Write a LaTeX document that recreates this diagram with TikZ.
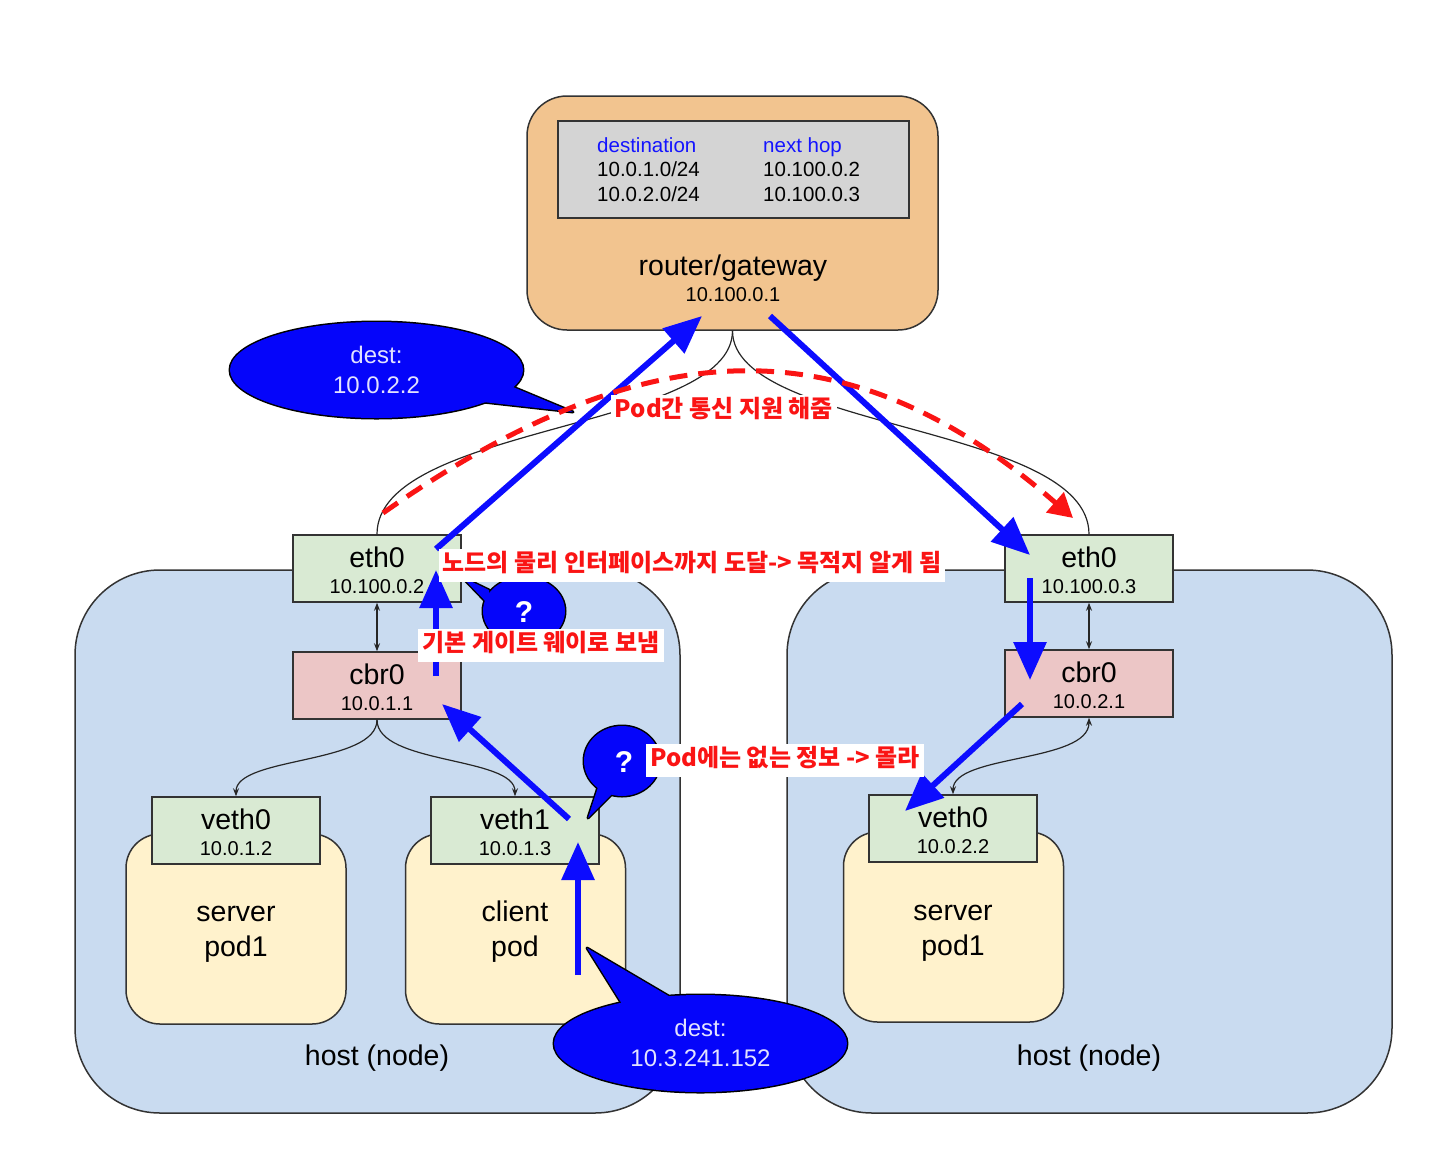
\documentclass[tikz,border=0pt]{standalone}
\usepackage{fontspec}
\setmainfont{Liberation Sans}
\newfontfamily\krfont{Noto Sans CJK KR}
\usetikzlibrary{arrows.meta}

\definecolor{routerfill}{RGB}{242,196,143}
\definecolor{hostfill}{RGB}{201,219,240}
\definecolor{ifgreen}{RGB}{217,234,211}
\definecolor{brpink}{RGB}{236,198,198}
\definecolor{podfill}{RGB}{255,242,204}
\definecolor{tablegray}{RGB}{212,212,212}
\definecolor{edgegray}{RGB}{51,51,51}
\definecolor{flowblue}{RGB}{12,12,255}
\definecolor{calloutblue}{RGB}{5,5,250}
\definecolor{callouttext}{RGB}{226,226,255}
\definecolor{headblue}{RGB}{20,20,255}
\definecolor{notered}{RGB}{250,20,20}

\newcommand\fsz[1]{\fontsize{#1}{#1}\selectfont}

% interface box: name, x, y (centre), fill, title, address
\newcommand\ifacebox[6]{%
  \node[ifbox,fill=#4] (#1) at (#2,#3) {};
  \node[title] (#1-name) at ({#2},{#3-1}) {#5};
  \node[addr] (#1-addr) at ({#2},{#3+24.5}) {#6};
}

% speech bubble: body path, tail path (outline drawn wide, then filled over)
\newcommand\speech[2]{%
  \draw[line width=3pt,line join=round,black] #1 #2;
  \fill[calloutblue] #1;
  \fill[calloutblue] #2;
}

\begin{document}
\begin{tikzpicture}[x=1pt,y=-1pt,
  outline/.style={draw=edgegray,line width=1.5pt},
  hostbox/.style={outline,fill=hostfill,rounded corners=85pt,minimum width=605pt,minimum height=543pt},
  podbox/.style={outline,fill=podfill,rounded corners=34pt,minimum width=220pt,minimum height=190pt},
  ifbox/.style={outline,minimum width=168pt,minimum height=67pt,inner sep=0pt},
  title/.style={font=\fsz{28.5},anchor=base,inner sep=0pt},
  addr/.style={font=\fsz{20},anchor=base,inner sep=0pt},
  tabtext/.style={font=\fsz{20.5},anchor=base west,inner sep=0pt},
  link/.style={black!85,line width=1.2pt},
  smalltip/.style={-{Stealth[length=8pt,width=6pt]}},
  bothtips/.style={{Stealth[length=8pt,width=6pt]}-{Stealth[length=8pt,width=6pt]}},
  flow/.style={flowblue,line width=6pt,-{Triangle[length=38pt,width=32pt]}},
  note/.style={fill=white,text=notered,font=\krfont\bfseries\fsz{24},inner xsep=4pt,inner ysep=5pt,text height=18pt,text depth=5pt},
  bubbletext/.style={text=callouttext,font=\fsz{24},anchor=base,inner sep=0pt},
  qmark/.style={text=white,font=\bfseries\fsz{30},inner sep=0pt}
]
\useasboundingbox (0,0) rectangle (1440,1152);

% hosts
\node[hostbox] (hostL) at (377.5,841.5) {};
\node[hostbox] (hostR) at (1089.5,841.5) {};
\node[title] (hostL-name) at (377,1065) {host (node)};
\node[title] (hostR-name) at (1089,1065) {host (node)};

% router with its routing table
\node[outline,fill=routerfill,rounded corners=40pt,minimum width=411pt,minimum height=234pt] (router) at (732.5,213) {};
\node[outline,fill=tablegray,minimum width=351pt,minimum height=97pt] (rtable) at (733.5,169.5) {};
\node[tabtext,text=headblue] (th-dest) at (597,152) {destination};
\node[tabtext,text=headblue] (th-hop) at (763,152) {next hop};
\node[tabtext] (r1-dest) at (597,176.5) {10.0.1.0/24};
\node[tabtext] (r2-dest) at (597,201) {10.0.2.0/24};
\node[tabtext] (r1-hop) at (763,176.5) {10.100.0.2};
\node[tabtext] (r2-hop) at (763,201) {10.100.0.3};
\node[title] (router-name) at (733,275) {router/gateway};
\node[addr] (router-addr) at (733,301) {10.100.0.1};

% pods
\node[podbox] (podL) at (236,929) {};
\node[podbox] (podC) at (515.5,929) {};
\node[podbox] (podR) at (953.5,927) {};
\node[title] (podL-a) at (236,921) {server};
\node[title] (podL-b) at (236,956) {pod1};
\node[title] (podC-a) at (515,921) {client};
\node[title] (podC-b) at (515,956) {pod};
\node[title] (podR-a) at (953,920) {server};
\node[title] (podR-b) at (953,955) {pod1};

% interfaces and bridges
\ifacebox{eth0L}{377}{568.5}{ifgreen}{eth0}{10.100.0.2}
\ifacebox{cbr0L}{377}{685.5}{brpink}{cbr0}{10.0.1.1}
\ifacebox{veth0L}{236}{830.5}{ifgreen}{veth0}{10.0.1.2}
\ifacebox{veth1L}{515}{830.5}{ifgreen}{veth1}{10.0.1.3}
\ifacebox{eth0R}{1089}{568.5}{ifgreen}{eth0}{10.100.0.3}
\ifacebox{cbr0R}{1089}{683.5}{brpink}{cbr0}{10.0.2.1}
\ifacebox{veth0R}{953}{828.5}{ifgreen}{veth0}{10.0.2.2}

% physical links
\draw[link] (router.south) .. controls +(0,100) and +(0,-110) .. (eth0L.north);
\draw[link] (router.south) .. controls +(0,100) and +(0,-110) .. (eth0R.north);
\draw[link,bothtips] (eth0L.south) -- (cbr0L.north);
\draw[link,bothtips] (eth0R.south) -- (cbr0R.north);
\draw[link,smalltip] (cbr0L.south) .. controls +(0,45) and +(0,-40) .. (veth0L.north);
\draw[link,smalltip] (cbr0L.south) .. controls +(0,45) and +(0,-40) .. (veth1L.north);
\draw[link,bothtips] (veth0R.north) .. controls +(0,-40) and +(0,45) .. (cbr0R.south);

% callouts
\speech{(376.5,370) ellipse [x radius=146.5, y radius=48]}{(513,387) -- (573,412) -- (483,402) -- cycle}
\node[bubbletext] (dest1-a) at (376.5,363) {dest:};
\node[bubbletext] (dest1-b) at (376.5,393) {10.0.2.2};

\speech{(700.5,1043.5) ellipse [x radius=146.5, y radius=48.5]}{(622,1004) -- (587,948) -- (672,998) -- cycle}
\node[bubbletext] (dest2-a) at (700.5,1036.5) {dest:};
\node[bubbletext] (dest2-b) at (700.5,1066.5) {10.3.241.152};

\speech{(524,611) ellipse [x radius=41, y radius=34]}{(489,590) -- (462,577) -- (491,607) -- cycle}
\node[qmark] (q1) at (524,612) {?};

\speech{(622,761) ellipse [x radius=38, y radius=35]}{(599,784) -- (588,818) -- (614,792) -- cycle}
\node[qmark] (q2) at (624,762) {?};

% packet path
\coordinate (p0) at (578,975);
\coordinate (p1) at (578,842);
\coordinate (p2s) at (569,819);
\coordinate (p2e) at (442,704);
\coordinate (p3s) at (436,676);
\coordinate (p3e) at (436,570);
\coordinate (p4s) at (436,549);
\coordinate (p4e) at (702,316);
\coordinate (p5s) at (770,316);
\coordinate (p5e) at (1030,555);
\coordinate (p6s) at (1030,578);
\coordinate (p6e) at (1030,680);
\coordinate (p7s) at (1022,704);
\coordinate (p7e) at (905,811);
\draw[flow] (p0) -- (p1);
\draw[flow] (p2s) -- (p2e);
\draw[flow] (p3s) -- (p3e);
\draw[flow] (p4s) -- (p4e);
\draw[flow] (p5s) -- (p5e);
\draw[flow] (p6s) -- (p6e);
\draw[flow] (p7s) -- (p7e);

% pod-to-pod reachability
\coordinate (rs) at (383,513);
\coordinate (re) at (1073,518);
\draw[notered,line width=5pt,dash pattern=on 18pt off 11pt,-{Triangle[length=24pt,width=26pt]}]
  (rs) .. controls (651,325) and (851,325) .. (re);

% annotations
\node[note] (n1) at (724,411) {Pod간 통신 지원 해줌};
\node[note] (n2) at (692,565) {노드의 물리 인터페이스까지 도달-> 목적지 알게 됨};
\node[note] (n3) at (541,645) {기본 게이트 웨이로 보냄};
\node[note] (n4) at (785,760) {Pod에는 없는 정보 -> 몰라};
\end{tikzpicture}
\end{document}
